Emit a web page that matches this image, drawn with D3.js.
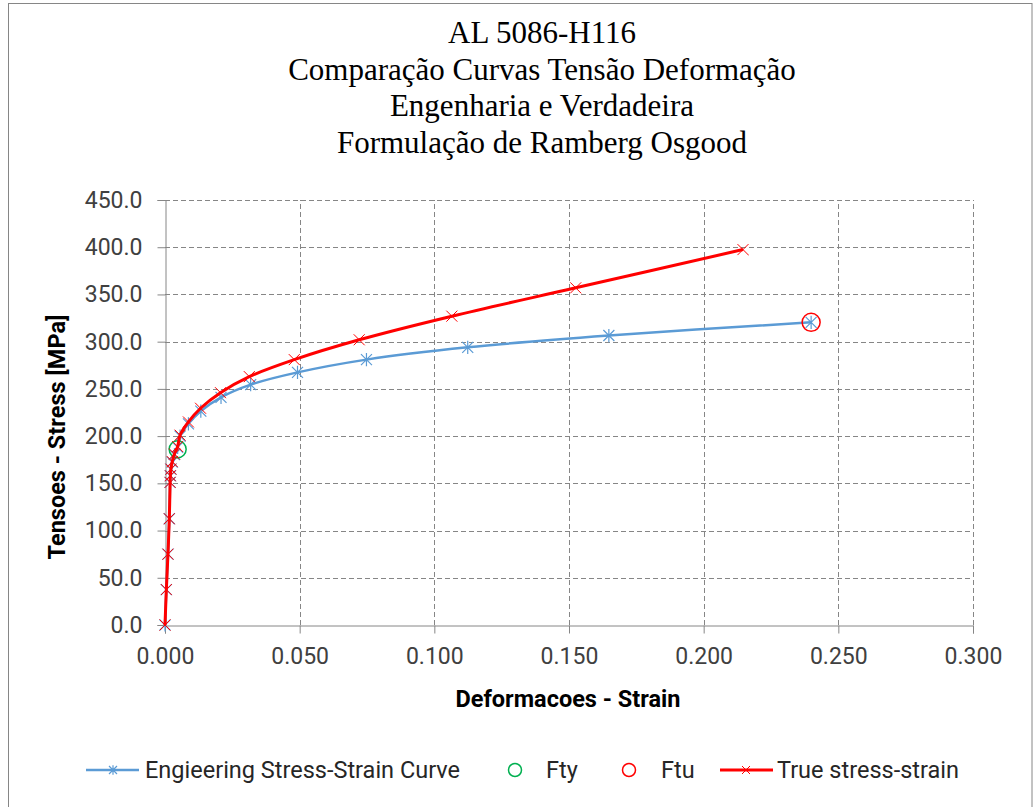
<!DOCTYPE html>
<html>
<head>
<meta charset="utf-8">
<script src="https://cdn.jsdelivr.net/npm/d3@7"></script>
<style>
  body { margin: 0; background: #fff; }
  svg { display: block; }
</style>
</head>
<body>
<svg id="chart" width="1034" height="807"></svg>
<script>
// ---------- data ----------
const titleLines = ["AL 5086-H116", "Comparação Curvas Tensão Deformação", "Engenharia e Verdadeira", "Formulação de Ramberg Osgood"];
const xTicks = [0, 0.05, 0.10, 0.15, 0.20, 0.25, 0.30];
const yTicks = [0, 50, 100, 150, 200, 250, 300, 350, 400, 450];

const engStrain = [0, 0.0005, 0.0011, 0.0016, 0.0019, 0.0020, 0.0022, 0.0027, 0.0035, 0.0047, 0.0056, 0.0087, 0.0133, 0.0208, 0.0318, 0.0492, 0.0748, 0.1124, 0.1648, 0.2399];
const engStress = [0, 37.5, 75, 112.5, 151, 158, 165, 172.5, 180.5, 188, 200, 213, 226.5, 241, 254.5, 267.5, 281, 294, 306.5, 320.5];

const trueStrain = [0, 0.0005, 0.0011, 0.0016, 0.0019, 0.0020, 0.0022, 0.0027, 0.0035, 0.0047, 0.0056, 0.0087, 0.0132, 0.0206, 0.0313, 0.0480, 0.0721, 0.1065, 0.1525, 0.2146];
const trueStress = [0, 37.5, 75, 112.5, 151, 158, 165, 173, 181, 189, 201, 215, 229.5, 246, 263, 281, 302, 327, 357, 397.5];

const ftyPoint = [0.0047, 186];
const ftuPoint = [0.2399, 320.5];

const seriesNames = ["Engieering Stress-Strain Curve", "Fty", "Ftu", "True stress-strain"];
const xTitle = "Deformacoes - Strain";
const yTitle = "Tensoes - Stress [MPa]";

// ---------- styles ----------
const BLUE = "#5b9bd5", RED = "#ff0000", GREEN = "#00b050", GRID = "#868686", TXT = "#404040";
const SANS = "Roboto, 'Open Sans', sans-serif";

const svg = d3.select("#chart");
svg.append("rect").attr("width", 1034).attr("height", 807).attr("fill", "#fff");
svg.append("rect").attr("x", 8.5).attr("y", 3.5).attr("width", 1023.5).attr("height", 830)
  .attr("fill", "none").attr("stroke", GRID).attr("stroke-width", 1);

const x = d3.scaleLinear().domain([0, 0.3]).range([165, 973]);
const y = d3.scaleLinear().domain([0, 450]).range([625, 200]);

// title
svg.append("g").selectAll("text").data(titleLines).join("text")
  .attr("x", 542).attr("y", (d, i) => 43 + i * 36.5)
  .attr("text-anchor", "middle")
  .attr("font-family", "'Liberation Serif', 'Times New Roman', serif")
  .attr("font-size", 31).attr("fill", "#000")
  .text(d => d);

// grid
const grid = svg.append("g").attr("stroke", GRID).attr("stroke-width", 1).attr("stroke-dasharray", "5,3").attr("fill", "none");
grid.selectAll("line.h").data(yTicks.filter(d => d > 0)).join("line")
  .attr("x1", x(0)).attr("x2", x(0.3))
  .attr("y1", d => Math.round(y(d)) + 0.5).attr("y2", d => Math.round(y(d)) + 0.5);
grid.selectAll("line.v").data(xTicks.filter(d => d > 0)).join("line")
  .attr("y1", y(0)).attr("y2", y(450))
  .attr("x1", d => Math.round(x(d)) + 0.5).attr("x2", d => Math.round(x(d)) + 0.5);

// axes
const xAxis = svg.append("g").attr("transform", `translate(0,${Math.round(y(0)) + 0.5})`)
  .call(d3.axisBottom(x).tickValues(xTicks).tickFormat(d3.format(".3f")).tickSize(8).tickPadding(14));
const yAxis = svg.append("g").attr("transform", `translate(${Math.round(x(0)) + 0.5},0)`)
  .call(d3.axisLeft(y).tickValues(yTicks).tickFormat(d3.format(".1f")).tickSize(8).tickPadding(15));
[xAxis, yAxis].forEach(a => {
  a.select(".domain").attr("stroke", GRID).attr("stroke-width", 1);
  a.selectAll(".tick line").attr("stroke", GRID).attr("stroke-width", 1);
  a.selectAll(".tick text").attr("font-family", SANS).attr("font-size", 23).attr("fill", TXT);
});

// axis titles
svg.append("text").attr("x", 568).attr("y", 707).attr("text-anchor", "middle")
  .attr("font-family", SANS).attr("font-weight", "bold").attr("font-size", 23.5).attr("fill", "#000")
  .text(xTitle);
svg.append("text").attr("transform", "translate(65,437) rotate(-90)").attr("text-anchor", "middle")
  .attr("font-family", SANS).attr("font-weight", "bold").attr("font-size", 23.5).attr("fill", "#000")
  .text(yTitle);

// markers
function asterisk(g, cx, cy, s, color) {
  g.append("path").attr("d", `M${cx - s},${cy - s}L${cx + s},${cy + s}M${cx - s},${cy + s}L${cx + s},${cy - s}M${cx},${cy - s * 1.2}L${cx},${cy + s * 1.2}`)
    .attr("stroke", color).attr("stroke-width", 1.2).attr("fill", "none");
}
function cross(g, cx, cy, s, color) {
  g.append("path").attr("d", `M${cx - s},${cy - s}L${cx + s},${cy + s}M${cx - s},${cy + s}L${cx + s},${cy - s}`)
    .attr("stroke", color).attr("stroke-width", 1).attr("fill", "none");
}

const line = d3.line().x(d => x(d[0])).y(d => y(d[1])).curve(d3.curveCatmullRom.alpha(0.5));

const engData = engStrain.map((s, i) => [s, engStress[i]]);
const trueData = trueStrain.map((s, i) => [s, trueStress[i]]);

const plot = svg.append("g");
plot.append("path").datum(engData).attr("d", line).attr("fill", "none").attr("stroke", BLUE).attr("stroke-width", 2.5);
const engM = plot.append("g");
engData.forEach(d => asterisk(engM, x(d[0]), y(d[1]), 5.5, BLUE));

plot.append("circle").attr("cx", x(ftyPoint[0])).attr("cy", y(ftyPoint[1])).attr("r", 8.5)
  .attr("fill", "none").attr("stroke", GREEN).attr("stroke-width", 1.5);
plot.append("circle").attr("cx", x(ftuPoint[0])).attr("cy", y(ftuPoint[1])).attr("r", 9)
  .attr("fill", "none").attr("stroke", RED).attr("stroke-width", 1.5);

plot.append("path").datum(trueData).attr("d", line).attr("fill", "none").attr("stroke", RED).attr("stroke-width", 3);
const trueM = plot.append("g");
trueData.forEach(d => cross(trueM, x(d[0]), y(d[1]), 5.5, RED));

// legend
const lg = svg.append("g").attr("font-family", SANS).attr("font-size", 23.5).attr("fill", "#262626");
const ly = 770;
lg.append("line").attr("x1", 86).attr("x2", 139).attr("y1", ly).attr("y2", ly).attr("stroke", BLUE).attr("stroke-width", 2.5);
asterisk(lg, 113, ly, 4, BLUE);
lg.append("text").attr("x", 145).attr("y", ly).attr("dy", "0.35em").text(seriesNames[0]);
lg.append("circle").attr("cx", 515).attr("cy", ly).attr("r", 6.5).attr("fill", "none").attr("stroke", GREEN).attr("stroke-width", 1.5);
lg.append("text").attr("x", 546).attr("y", ly).attr("dy", "0.35em").text(seriesNames[1]);
lg.append("circle").attr("cx", 629).attr("cy", ly).attr("r", 6.5).attr("fill", "none").attr("stroke", RED).attr("stroke-width", 1.5);
lg.append("text").attr("x", 661).attr("y", ly).attr("dy", "0.35em").text(seriesNames[2]);
lg.append("line").attr("x1", 720).attr("x2", 773).attr("y1", ly).attr("y2", ly).attr("stroke", RED).attr("stroke-width", 3);
cross(lg, 746, ly, 4, RED);
lg.append("text").attr("x", 777).attr("y", ly).attr("dy", "0.35em").text(seriesNames[3]);
</script>
</body>
</html>
